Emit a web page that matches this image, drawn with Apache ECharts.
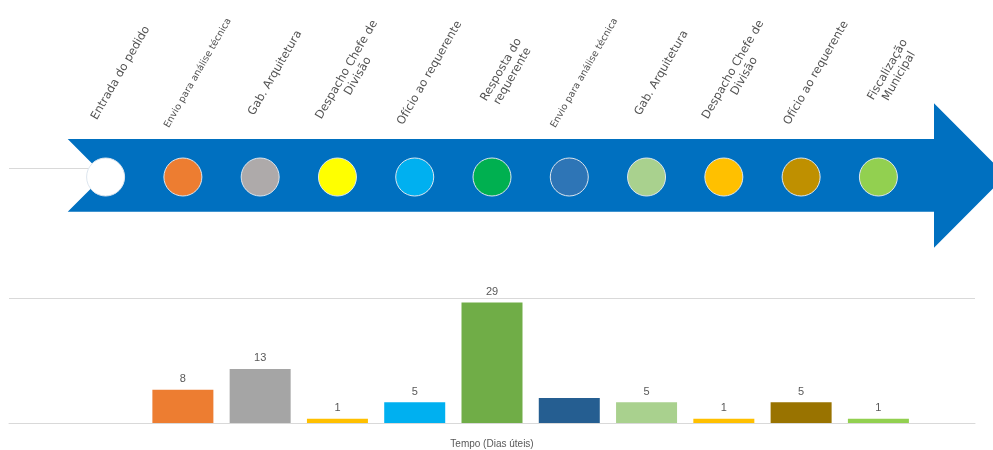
<!DOCTYPE html>
<html>
<head>
<meta charset="utf-8">
<script src="https://cdn.jsdelivr.net/npm/echarts@6/dist/echarts.min.js"></script>
<style>
  html, body { margin: 0; padding: 0; background: #ffffff; }
  #chart { width: 993px; height: 450px; }
</style>
</head>
<body>
<div id="chart"></div>
<script>
// Process steps along the timeline arrow
const steps = [
  'Entrada do pedido',
  'Envio para análise técnica',
  'Gab. Arquitetura',
  'Despacho Chefe de\nDivisão',
  'Ofício ao requerente',
  'Resposta do\nrequerente',
  'Envio para análise técnica',
  'Gab. Arquitetura',
  'Despacho Chefe de\nDivisão',
  'Ofício ao requerente',
  'Fiscalização\nMunicipal'
];
// Working days spent in each step (first step has no duration)
const stepDays = [null, 8, 13, 1, 5, 29, 6, 5, 1, 5, 1];
const dayLabelShown = [false, true, true, true, true, true, false, true, true, true, true];
const dayAxisTicks = [0, 30];
const axisTitle = 'Tempo (Dias úteis)';

// Palette
const stepColors = ['#FFFFFF', '#ED7D31', '#AEAAAA', '#FFFF00', '#00B0F0', '#00B050',
                    '#2E75B6', '#A9D18E', '#FFC000', '#BF9000', '#92D050'];
const barColors = ['#FFFFFF', '#ED7D31', '#A5A5A5', '#FFC000', '#00B0F0', '#70AD47',
                   '#255E91', '#A9D18E', '#FFC000', '#997300', '#92D050'];
const arrowBlue = '#0070C0';

const chart = echarts.init(document.getElementById('chart'), null, { renderer: 'canvas' });

const xRange = { min: -1.25, max: steps.length + 0.25 };

// long single-line names are set in a smaller size so they fit the slant
const longestLine = s => Math.max(...s.split('\n').map(l => l.length));

const option = {
  animation: false,
  backgroundColor: '#ffffff',
  grid: [
    { left: 9, right: 18, top: 298.3, bottom: 23.3, containLabel: false },
    { left: 9, right: 18, top: 73, height: 104, containLabel: false }
  ],
  xAxis: [
    {
      gridIndex: 0, type: 'value', min: xRange.min, max: xRange.max,
      axisLine: { show: true, onZero: false, lineStyle: { color: '#d9d9d9', width: 1 } },
      axisTick: { show: false }, axisLabel: { show: false }, splitLine: { show: false },
      name: axisTitle, nameLocation: 'middle', nameGap: 16,
      nameTextStyle: { color: '#595959', fontSize: 10, fontFamily: 'Liberation Sans' }
    },
    {
      gridIndex: 1, type: 'value', min: xRange.min, max: xRange.max, show: false
    }
  ],
  yAxis: [
    {
      gridIndex: 0, type: 'value', min: dayAxisTicks[0], max: dayAxisTicks[1],
      interval: dayAxisTicks[1] - dayAxisTicks[0],
      axisLine: { show: false }, axisTick: { show: false }, axisLabel: { show: false },
      splitLine: { show: true, lineStyle: { color: '#d9d9d9', width: 1 } }
    },
    {
      gridIndex: 1, type: 'value', min: 0, max: 1, inverse: true, show: false
    }
  ],
  graphic: [
    {
      type: 'line', z: 0,
      shape: { x1: 9, y1: 168.5, x2: 92, y2: 168.5 },
      style: { stroke: '#d9d9d9', lineWidth: 1 }
    },
    {
      type: 'polygon', z: 1,
      shape: {
        points: [[67.7, 139], [934, 139], [934, 103.3], [1006, 175.5],
                 [934, 247.7], [934, 211.7], [67.7, 211.7], [104, 175.5]]
      },
      style: { fill: arrowBlue }
    }
  ],
  series: [
    {
      type: 'bar',
      xAxisIndex: 0, yAxisIndex: 0,
      barWidth: 61,
      z: 3,
      data: stepDays.map((v, i) => ({
        value: [i, v],
        itemStyle: { color: barColors[i] },
        label: { show: dayLabelShown[i] }
      })),
      label: {
        position: 'top', distance: 5,
        color: '#595959', fontSize: 11, fontFamily: 'Liberation Sans'
      }
    },
    {
      // step markers on the arrow
      type: 'scatter',
      xAxisIndex: 1, yAxisIndex: 1,
      symbol: 'circle', symbolSize: 38,
      z: 4,
      data: steps.map((s, i) => ({
        value: [i, 1],
        itemStyle: { color: stepColors[i] }
      })),
      itemStyle: { borderColor: '#dde6ef', borderWidth: 1, opacity: 1 },
      silent: true
    },
    {
      // step names above the arrow
      type: 'scatter',
      xAxisIndex: 1, yAxisIndex: 1,
      symbolSize: 0,
      z: 5,
      data: steps.map((s, i) => ({
        value: [i, 0],
        label: { fontSize: longestLine(s) > 22 ? 9.5 : 11.5 }
      })),
      label: {
        show: true,
        position: [15, 0],
        rotate: 60,
        align: 'center',
        verticalAlign: 'middle',
        lineHeight: 13,
        color: '#262626',
        fontFamily: 'DejaVu Sans',
        formatter: p => steps[p.dataIndex]
      },
      silent: true
    }
  ]
};

chart.setOption(option);
</script>
</body>
</html>
